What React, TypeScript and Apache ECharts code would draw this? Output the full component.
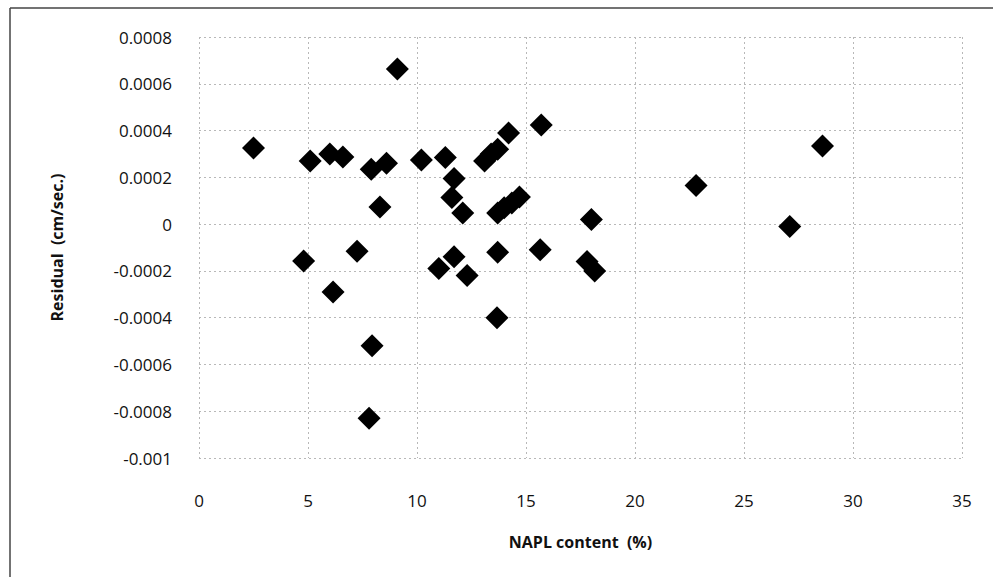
import React, { useEffect, useRef } from "react";
import * as echarts from "echarts";

const napl: number[] = [
  2.5, 5.1, 6.0, 6.6, 7.9, 8.6, 9.1, 10.2, 11.3, 11.7, 11.6, 12.1, 8.3,
  13.1, 13.4, 13.7, 14.2, 15.7, 13.7, 14.0, 14.35, 14.7, 18.0, 22.8, 27.1, 28.6,
  4.8, 7.25, 6.15, 7.94, 7.8, 11.0, 11.7, 12.3, 13.7, 15.65, 17.8, 18.15, 13.67,
];
const residual: number[] = [
  0.000325, 0.00027, 0.0003, 0.000287, 0.000235, 0.00026, 0.000663, 0.000274, 0.000285, 0.000195, 0.000114, 0.000047, 0.000073,
  0.00027, 0.0003, 0.00032, 0.00039, 0.000424, 0.000047, 0.00007, 0.00009, 0.000116, 0.00002, 0.000165, -0.00001, 0.000334,
  -0.000158, -0.000116, -0.00029, -0.00052, -0.00083, -0.00019, -0.00014, -0.00022, -0.00012, -0.00011, -0.00016, -0.0002, -0.0004,
];

const xAxisName = "NAPL content  (%)";
const yAxisName = "Residual  (cm/sec.)";

export default function App() {
  const ref = useRef<HTMLDivElement>(null);
  useEffect(() => {
    if (!ref.current) return;
    const chart = echarts.init(ref.current, undefined, { renderer: "svg" });
    const font = "'Open Sans', 'Liberation Sans', sans-serif";
    chart.setOption({
      animation: false,
      backgroundColor: "#ffffff",
      grid: { left: 199, right: 33, top: 37, bottom: 119 },
      xAxis: {
        type: "value",
        min: 0,
        max: 35,
        interval: 5,
        axisLine: { show: false },
        axisTick: { show: false },
        axisLabel: { color: "#111", fontSize: 17, fontFamily: font, margin: 34 },
        splitLine: { show: true, lineStyle: { color: "#b8b8b8", type: [2, 3], width: 1 } },
        name: xAxisName,
        nameLocation: "middle",
        nameGap: 76,
        nameTextStyle: { color: "#111", fontSize: 16, fontWeight: "bold", fontFamily: font },
      },
      yAxis: {
        type: "value",
        min: -0.001,
        max: 0.0008,
        interval: 0.0002,
        axisLine: { show: false },
        axisTick: { show: false },
        axisLabel: {
          color: "#111",
          fontSize: 17,
          fontFamily: font,
          margin: 27,
          formatter: (v: number) => String(parseFloat(v.toFixed(4))),
        },
        splitLine: { show: true, lineStyle: { color: "#b8b8b8", type: [2, 3], width: 1 } },
        name: yAxisName,
        nameLocation: "middle",
        nameGap: 134,
        nameRotate: 90,
        nameTextStyle: { color: "#111", fontSize: 16, fontWeight: "bold", fontFamily: font },
      },
      series: [
        {
          type: "scatter",
          symbol: "diamond",
          symbolSize: 23,
          itemStyle: { color: "#000", opacity: 1 },
          data: napl.map((x, i) => [x, residual[i]]),
        },
      ],
      graphic: [
        { type: "line", shape: { x1: 10, y1: 8, x2: 993, y2: 8 }, style: { stroke: "#444", lineWidth: 1.5 } },
        { type: "line", shape: { x1: 10, y1: 8, x2: 10, y2: 577 }, style: { stroke: "#444", lineWidth: 1.5 } },
      ],
    });
    return () => chart.dispose();
  }, []);
  return <div ref={ref} style={{ width: 995, height: 577, position: "absolute", left: 0, top: 0 }} />;
}
